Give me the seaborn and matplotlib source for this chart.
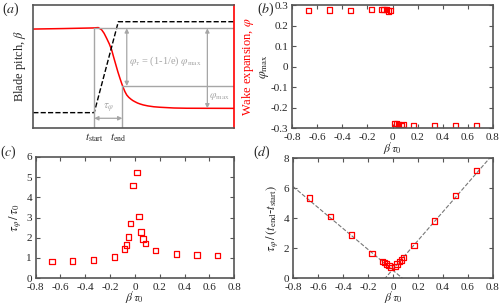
import numpy as np
import matplotlib
matplotlib.use("Agg")
import matplotlib.pyplot as plt
import seaborn as sns

# data

# panel (a) schematic, normalised coordinates
red_x = [0.0, 0.15, 0.2985, 0.323, 0.340, 0.352, 0.365, 0.378, 0.390, 0.400, 0.411, 0.421, 0.431, 0.440,
         0.448, 0.456, 0.465, 0.475, 0.485, 0.495, 0.506, 0.518, 0.531, 0.547, 0.570, 0.600, 0.631, 0.700,
         0.763, 1.0]
red_y = [0.806, 0.810, 0.815, 0.818, 0.800, 0.772, 0.730, 0.685, 0.635, 0.575, 0.512, 0.455, 0.404, 0.360,
         0.325, 0.294, 0.267, 0.248, 0.234, 0.222, 0.212, 0.202, 0.194, 0.186, 0.178, 0.171, 0.167, 0.161,
         0.159, 0.158]
pitch_x = [0.0, 0.303, 0.423, 1.0]
pitch_y = [0.123, 0.123, 0.866, 0.866]
t_start, t_end, t_phi = 0.303, 0.423, 0.443
phi_top, phi_tau, phi_low = 0.812, 0.341, 0.158

# panels (b)-(d)
beta_tau0 = [-2/3, -1/2, -1/3, -1/6, -5/60, -4/60, -3/60, -2/60, -1/60,
             1/60, 2/60, 3/60, 4/60, 5/60, 1/6, 1/3, 1/2, 2/3]
phi_max = [0.274, 0.275, 0.274, 0.279, 0.279, 0.279, 0.277, 0.271, 0.272,
           -0.279, -0.279, -0.284, -0.288, -0.284, -0.287, -0.287, -0.288, -0.287]
tau_ratio = [0.82, 0.85, 0.90, 1.05, 1.45, 1.65, 2.03, 2.70, 4.59,
             5.24, 3.04, 2.29, 1.94, 1.73, 1.37, 1.19, 1.14, 1.12]
tau_norm = [5.35, 4.12, 2.89, 1.65, 1.12, 1.04, 0.95, 0.84, 0.73,
            0.79, 0.95, 1.12, 1.21, 1.37, 2.18, 3.83, 5.51, 7.18]
fit_left = (-7.0, 0.52)   # slope, intercept
fit_right = (9.6, 0.60)

xticks = [-0.8, -0.6, -0.4, -0.2, 0, 0.2, 0.4, 0.6, 0.8]
xticklabels = ['-0.8', '-0.6', '-0.4', '-0.2', '0', '0.2', '0.4', '0.6', '0.8']
xlab = r"$\beta\!^{\prime}\tau_0$"

sns.set_style("ticks")
plt.rcParams['font.family'] = ['Liberation Serif', 'DejaVu Serif']
plt.rcParams['mathtext.fontset'] = 'stix'
plt.rcParams['axes.unicode_minus'] = False

spine_col = '#555555'
gray = '#a6a6a6'

fig = plt.figure(figsize=(5, 3.05), dpi=100)
ax_a = fig.add_axes([0.0666, 0.5813, 0.402, 0.4013])
ax_b = fig.add_axes([0.584, 0.5803, 0.402, 0.4033])
ax_c = fig.add_axes([0.071, 0.0880, 0.3976, 0.3973])
ax_d = fig.add_axes([0.586, 0.0880, 0.400, 0.3926])


def style(ax):
    for s in ax.spines.values():
        s.set_color(spine_col)
        s.set_linewidth(1.2)
    ax.tick_params(direction='in', top=True, right=True, length=3, width=0.8,
                   color=spine_col, labelsize=8, pad=2.5)
    ax.tick_params(axis='x', pad=3.5)


# (a) schematic
style(ax_a)
ax_a.spines['right'].set_color('red')
sns.lineplot(x=red_x, y=red_y, ax=ax_a, color='red', lw=1.1, sort=False)
sns.lineplot(x=pitch_x, y=pitch_y, ax=ax_a, color='black', lw=1.0, ls='--', sort=False)
ax_a.plot([t_start, t_start], [0, phi_top], color=gray, lw=1)
ax_a.plot([t_phi, t_phi], [0, phi_tau], color=gray, lw=1)
ax_a.plot([t_start, 1], [phi_top, phi_top], color=gray, lw=1)
ax_a.plot([t_phi, 1], [phi_tau, phi_tau], color=gray, lw=1)
arrow = dict(arrowstyle='<|-|>', color=gray, lw=0.9, mutation_scale=6, shrinkA=0, shrinkB=0)
ax_a.annotate('', xy=(0.465, phi_top), xytext=(0.465, phi_tau), arrowprops=arrow)
ax_a.annotate('', xy=(0.866, phi_top), xytext=(0.866, phi_low), arrowprops=arrow)
ax_a.annotate('', xy=(t_start, 0.077), xytext=(t_phi, 0.077), arrowprops=arrow)
ax_a.text(0.478, 0.54, r'$\varphi_\tau$ = (1-1/e) $\varphi_{\rm max}$', color=gray, fontsize=7.5, va='center')
ax_a.text(0.875, 0.255, r'$\varphi_{\rm max}$', color=gray, fontsize=7.5, va='center')
ax_a.text((t_start + t_phi) / 2, 0.155, r'$\tau_\varphi$', color=gray, fontsize=8, ha='center', va='center')
ax_a.set_xlim(0, 1)
ax_a.set_ylim(0, 1)
ax_a.set_yticks([])
ax_a.set_xticks([t_start, t_end])
ax_a.set_xticklabels([r'$t_{\rm start}$', r'$t_{\rm end}$'], fontsize=8)
ax_a.tick_params(axis='x', length=0, top=False, pad=3)
ax_a.set_ylabel(r'Blade pitch, $\beta$', fontsize=9, labelpad=4)
ax_a2 = ax_a.twinx()
ax_a2.set_yticks([])
for s in ax_a2.spines.values():
    s.set_visible(False)
ax_a2.set_ylabel(r'Wake expansion, $\varphi$', fontsize=9, color='red', labelpad=4)

mk = dict(marker='s', s=15, facecolor='none', edgecolor='red', linewidth=0.9)

# (b)
style(ax_b)
sns.scatterplot(x=beta_tau0, y=phi_max, ax=ax_b, **mk)
ax_b.set_xlim(-0.8, 0.8)
ax_b.set_ylim(-0.3, 0.3)
ax_b.set_yticks([-0.3, -0.2, -0.1, 0, 0.1, 0.2, 0.3])
ax_b.set_yticklabels(['-0.3', '-0.2', '-0.1', '0', '0.1', '0.2', '0.3'])
ax_b.set_xticks(xticks)
ax_b.set_xticklabels(xticklabels)
ax_b.set_ylabel(r'$\varphi_{\rm max}$', fontsize=9, labelpad=0)
ax_b.set_xlabel(xlab, fontsize=8.5, labelpad=-1)

# (c)
style(ax_c)
sns.scatterplot(x=beta_tau0, y=tau_ratio, ax=ax_c, **mk)
ax_c.set_xlim(-0.8, 0.8)
ax_c.set_ylim(0, 6)
ax_c.set_yticks(range(7))
ax_c.set_xticks(xticks)
ax_c.set_xticklabels(xticklabels)
ax_c.set_ylabel(r'$\tau_\varphi\,/\,\tau_0$', fontsize=9, labelpad=2)
ax_c.set_xlabel(xlab, fontsize=8.5, labelpad=-2)

# (d)
style(ax_d)
xs = np.array([-0.8, 0.8])
sns.lineplot(x=xs, y=fit_left[0] * xs + fit_left[1], ax=ax_d, color='#777777', lw=0.8, ls='--')
sns.lineplot(x=xs, y=fit_right[0] * xs + fit_right[1], ax=ax_d, color='#777777', lw=0.8, ls='--')
sns.scatterplot(x=beta_tau0, y=tau_norm, ax=ax_d, zorder=3, **mk)
ax_d.set_xlim(-0.8, 0.8)
ax_d.set_ylim(0, 8)
ax_d.set_yticks([0, 2, 4, 6, 8])
ax_d.set_xticks(xticks)
ax_d.set_xticklabels(xticklabels)
ax_d.set_ylabel(r'$\tau_\varphi\,/\,(t_{\rm end}$-$t_{\rm start})$', fontsize=9, labelpad=2)
ax_d.set_xlabel(xlab, fontsize=8.5, labelpad=-2)

# panel letters
for x, y, lab in [(0.004, 0.97, 'a'), (0.514, 0.968, 'b'), (0.0, 0.5, 'c'), (0.506, 0.5, 'd')]:
    fig.text(x, y, '(' + r'$\it{' + lab + '}$' + ')', fontsize=10, va='center')

fig.savefig('out.png', dpi=100)
